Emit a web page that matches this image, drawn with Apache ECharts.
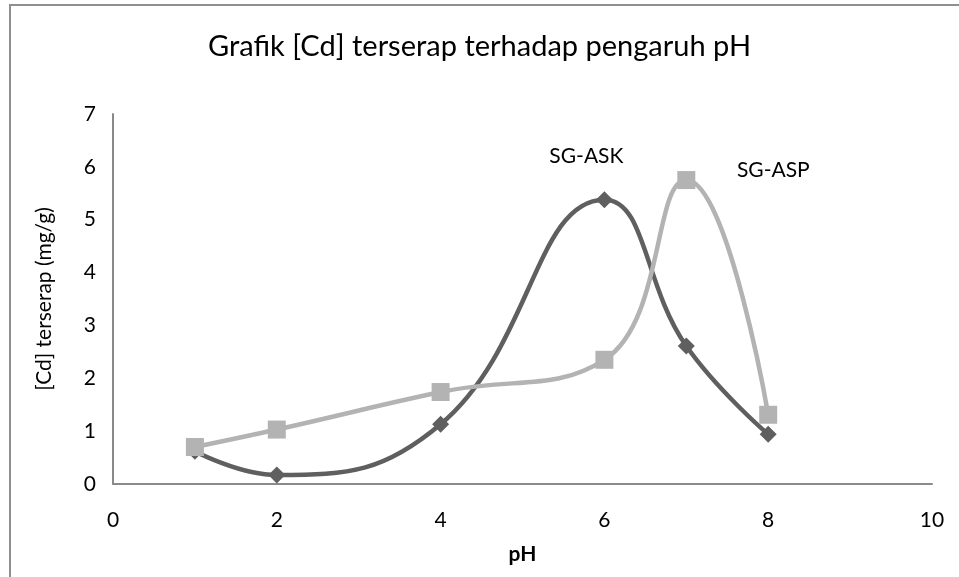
<!DOCTYPE html>
<html>
<head>
<meta charset="utf-8">
<script src="https://cdn.jsdelivr.net/npm/echarts@6/dist/echarts.min.js"></script>
<style>
  html, body { margin: 0; padding: 0; background: #fff; }
  #frame {
    position: absolute; left: 9px; top: 4px; width: 1000px; height: 1000px;
    border-left: 2px solid #8f8f8f; border-top: 2px solid #8f8f8f;
  }
  #chart { position: absolute; left: 0; top: 0; width: 959px; height: 577px; }
</style>
</head>
<body>
<div id="frame"></div>
<div id="chart"></div>
<script>
// pH values and absorbed Cd (mg/g)
const phValues = [1, 2, 4, 6, 7, 8];
const askValues = [0.62, 0.17, 1.13, 5.38, 2.61, 0.94];
const aspValues = [0.70, 1.03, 1.74, 2.35, 5.75, 1.31];
const askName = "SG-ASK";
const aspName = "SG-ASP";

const fontFamily = "Lato, 'Open Sans', sans-serif";

function pairs(xs, ys) {
  return xs.map((x, i) => [x, ys[i]]);
}

// put the series name next to its peak point
function withPeakLabel(data, offset) {
  let peak = 0;
  data.forEach((d, i) => { if (d[1] > data[peak][1]) peak = i; });
  return data.map((d, i) => i !== peak ? d : {
    value: d,
    label: {
      show: true,
      position: "inside",
      offset: offset,
      formatter: "{a}",
      color: "#000",
      fontSize: 21,
      fontFamily: fontFamily
    }
  });
}

const chart = echarts.init(document.getElementById("chart"));

chart.setOption({
  animation: false,
  title: {
    text: "Grafik [Cd] terserap terhadap pengaruh pH",
    left: "center",
    top: 27,
    textStyle: { fontFamily: fontFamily, fontWeight: "normal", fontSize: 29, color: "#000" }
  },
  grid: { left: 113, right: 27, top: 114, bottom: 93 },
  xAxis: {
    type: "value",
    min: 0,
    max: 10,
    interval: 2,
    name: "pH",
    nameLocation: "middle",
    nameGap: 60,
    nameTextStyle: { fontFamily: fontFamily, fontWeight: "bold", fontSize: 21, color: "#000" },
    axisLine: { show: true, lineStyle: { color: "#8a8a8a", width: 2 } },
    axisTick: { show: false },
    splitLine: { show: false },
    axisLabel: { margin: 26, fontFamily: fontFamily, fontSize: 21, color: "#000" }
  },
  yAxis: {
    type: "value",
    min: 0,
    max: 7,
    interval: 1,
    name: "[Cd] terserap (mg/g)",
    nameLocation: "middle",
    nameGap: 58,
    nameTextStyle: { fontFamily: fontFamily, fontSize: 21, color: "#000" },
    axisLine: { show: true, lineStyle: { color: "#8a8a8a", width: 2 } },
    axisTick: { show: false },
    splitLine: { show: false },
    axisLabel: { margin: 17, fontFamily: fontFamily, fontSize: 21, color: "#000" }
  },
  series: [
    {
      name: askName,
      type: "line",
      smooth: 0.45,
      data: withPeakLabel(pairs(phValues, askValues), [-18, -43]),
      symbol: "diamond",
      symbolSize: 17,
      lineStyle: { color: "#5f5f5f", width: 4.5 },
      itemStyle: { color: "#5f5f5f" },
      z: 2
    },
    {
      name: aspName,
      type: "line",
      smooth: 0.45,
      data: withPeakLabel(pairs(phValues, aspValues), [87, -10]),
      symbol: "rect",
      symbolSize: 18,
      lineStyle: { color: "#b3b3b3", width: 4.5 },
      itemStyle: { color: "#b3b3b3" },
      z: 3
    }
  ]
});
</script>
</body>
</html>
